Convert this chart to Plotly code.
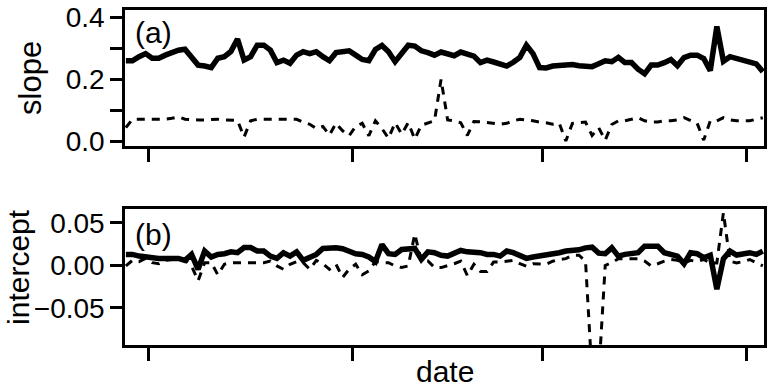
import pandas as pd
import plotly.graph_objects as go
from plotly.subplots import make_subplots

# ---- data (daily, starting 2007-12-28) ----
start_date = "2007-12-28 12:00"
n_days = 98
dates = pd.date_range(start_date, periods=n_days, freq="D")

slope_solid = [
    0.26, 0.26, 0.273, 0.283, 0.268, 0.268, 0.278, 0.286, 0.294, 0.297,
    0.273, 0.246, 0.243, 0.238, 0.268, 0.273, 0.29, 0.33, 0.262, 0.273,
    0.31, 0.31, 0.294, 0.254, 0.262, 0.252, 0.278, 0.289, 0.283, 0.289,
    0.273, 0.26, 0.286, 0.291, 0.292, 0.278, 0.264, 0.26, 0.296, 0.309,
    0.289, 0.257, 0.286, 0.31, 0.307, 0.292, 0.286, 0.278, 0.288, 0.281,
    0.276, 0.288, 0.283, 0.275, 0.254, 0.262, 0.256, 0.248, 0.243, 0.255,
    0.271, 0.31, 0.283, 0.238, 0.237, 0.243, 0.245, 0.25, 0.248, 0.244,
    0.241, 0.241, 0.25, 0.26, 0.257, 0.271, 0.254, 0.254, 0.233, 0.218,
    0.246, 0.246, 0.254, 0.264, 0.244, 0.27, 0.278, 0.278, 0.267, 0.228,
    0.37, 0.258, 0.273, 0.268, 0.259, 0.254, 0.25, 0.225,
]
slope_dashed = [
    0.045, 0.072, 0.072, 0.072, 0.072, 0.072, 0.072, 0.075, 0.08, 0.072,
    0.07, 0.07, 0.07, 0.072, 0.072, 0.07, 0.07, 0.068, 0.015, 0.067,
    0.072, 0.072, 0.07, 0.07, 0.072, 0.072, 0.072, 0.063, 0.056, 0.042,
    0.049, 0.021, 0.059, 0.035, 0.019, 0.049, 0.059, 0.019, 0.067, 0.042,
    0.011, 0.061, 0.024, 0.061, 0.008, 0.053, 0.059, 0.067, 0.2, 0.07,
    0.067, 0.061, 0.02, 0.065, 0.064, 0.061, 0.059, 0.056, 0.059, 0.067,
    0.072, 0.07, 0.067, 0.063, 0.061, 0.056, 0.059, 0.002, 0.059, 0.061,
    0.063, 0.02, 0.045, 0.005, 0.055, 0.067, 0.067, 0.072, 0.077, 0.067,
    0.063, 0.063, 0.067, 0.067, 0.07, 0.077, 0.067, 0.059, 0.005, 0.067,
    0.067, 0.077, 0.07, 0.067, 0.067, 0.067, 0.072, 0.077,
]
intercept_solid = [
    0.013, 0.013, 0.011, 0.0099, 0.0083, 0.0083, 0.0083, 0.0083, 0.0083, 0.006,
    0.013, -0.0045, 0.017, 0.0099, 0.013, 0.0138, 0.016, 0.015, 0.021, 0.021,
    0.017, 0.017, 0.011, 0.0083, 0.015, 0.011, 0.016, 0.006, 0.0099, 0.013,
    0.02, 0.0207, 0.0207, 0.0196, 0.016, 0.0138, 0.013, 0.0099, 0.0045, 0.0246,
    0.0138, 0.013, 0.0188, 0.0188, 0.02, 0.0072, 0.016, 0.015, 0.012, 0.011,
    0.0138, 0.0176, 0.016, 0.0157, 0.015, 0.013, 0.013, 0.011, 0.0169, 0.015,
    0.0118, 0.0083, 0.0099, 0.011, 0.0122, 0.013, 0.015, 0.0169, 0.0169, 0.0184,
    0.0207, 0.0215, 0.0145, 0.0138, 0.0207, 0.011, 0.013, 0.0138, 0.015, 0.0227,
    0.0227, 0.0227, 0.015, 0.013, 0.011, 0.002, 0.015, 0.0138, 0.0091, 0.012,
    -0.028, 0.008, 0.0169, 0.0122, 0.0138, 0.015, 0.013, 0.0169,
]
intercept_dashed = [
    -0.0006, 0.006, 0.0045, 0.0083, 0.0033, 0.002, 0.006, 0.007, 0.007, 0.006,
    -0.0006, -0.018, 0.0033, 0.0033, -0.011, 0.0014, 0.0033, 0.0033, 0.0033, 0.0033,
    0.0033, 0.0033, 0.0052, -0.0006, -0.0045, 0.0014, 0.0045, 0.0033, -0.0045, 0.006,
    0.002, -0.0045, 0.0014, -0.0141, -0.0045, 0.0014, -0.011, -0.0064, 0.0045, 0.0033,
    0.0033, -0.0006, -0.0025, -0.0006, 0.037, 0.0052, 0.0052, -0.0025, -0.0025, -0.0006,
    0.002, 0.005, -0.012, 0.0014, -0.007, -0.007, 0.004, 0.004, 0.005, 0.006,
    0.002, -0.001, 0.002, 0.002, 0.0014, 0.005, 0.007, 0.008, 0.012, 0.012,
    0.005, -0.13, -0.13, 0.0, 0.0033, 0.008, 0.008, 0.008, 0.008, 0.0052,
    -0.0006, 0.002, 0.005, 0.007, 0.006, 0.003, 0.006, 0.0045, 0.007, 0.003,
    0.003, 0.062, 0.005, 0.003, 0.0045, 0.007, 0.003, -0.0006,
]

date_ticks = ["2008-01-01", "2008-02-01", "2008-03-01", "2008-04-01"]
x_range = ["2007-12-28 08:47", "2008-04-03 16:20"]

slope_ticks = [0.0, 0.1, 0.2, 0.3, 0.4]
slope_ticktext = ["0.0", "", "0.2", "", "0.4"]
intercept_ticks = [-0.05, 0.0, 0.05]
intercept_ticktext = ["\u22120.05", "0.00", "0.05"]

FONT = "Liberation Sans, Arial, Helvetica, sans-serif"

fig = make_subplots(rows=2, cols=1, shared_xaxes=False, vertical_spacing=0.0)

fig.add_trace(go.Scatter(x=dates, y=slope_solid, mode="lines",
                         line=dict(color="black", width=5.5), showlegend=False), row=1, col=1)
fig.add_trace(go.Scatter(x=dates, y=slope_dashed, mode="lines",
                         line=dict(color="black", width=3, dash="8px,7px"), showlegend=False), row=1, col=1)
fig.add_trace(go.Scatter(x=dates, y=intercept_solid, mode="lines",
                         line=dict(color="black", width=5.5), showlegend=False), row=2, col=1)
fig.add_trace(go.Scatter(x=dates, y=intercept_dashed, mode="lines",
                         line=dict(color="black", width=3, dash="8px,7px"), showlegend=False), row=2, col=1)

axis_common = dict(showline=True, mirror=True, linecolor="black", linewidth=2.5,
                   ticks="outside", tickcolor="black", tickwidth=2.5,
                   showgrid=False, zeroline=False)

for r in (1, 2):
    fig.update_xaxes(range=x_range, tickvals=date_ticks, showticklabels=False,
                     ticklen=13, **axis_common, row=r, col=1)

fig.update_yaxes(range=[-0.0135, 0.423], tickvals=slope_ticks, ticktext=slope_ticktext,
                 ticklen=12, tickfont=dict(size=28, family=FONT, color="black"),
                 ticklabeloverflow="allow", **axis_common, row=1, col=1)
fig.update_yaxes(range=[-0.0936, 0.0665], tickvals=intercept_ticks, ticktext=intercept_ticktext,
                 ticklen=12, tickfont=dict(size=28, family=FONT, color="black"),
                 ticklabeloverflow="allow", **axis_common, row=2, col=1)

H = 387
t, b = 6, 42
ph = H - t - b
fig.update_layout(
    width=769, height=387,
    margin=dict(l=125, r=2, t=t, b=b),
    paper_bgcolor="white", plot_bgcolor="white",
    font=dict(family=FONT, color="black"),
    yaxis=dict(domain=[1 - (143.5 - 6) / ph, 1]),
    yaxis2=dict(domain=[0, (345 - 207.3) / ph]),
    xaxis=dict(domain=[0, 1]), xaxis2=dict(domain=[0, 1]),
)

ann_font = dict(size=30, family=FONT, color="black")
fig.add_annotation(text="(a)", xref="x domain", yref="y domain", x=0, y=1,
                   xanchor="left", yanchor="top", xshift=8, yshift=-4,
                   showarrow=False, font=ann_font)
fig.add_annotation(text="(b)", xref="x2 domain", yref="y2 domain", x=0, y=1,
                   xanchor="left", yanchor="top", xshift=8, yshift=-7,
                   showarrow=False, font=ann_font)
fig.add_annotation(text="slope", xref="paper", yref="y domain", x=0, y=0.5,
                   xanchor="center", yanchor="middle", xshift=-94, textangle=-90,
                   showarrow=False, font=dict(size=31, family=FONT, color="black"))
fig.add_annotation(text="intercept", xref="paper", yref="paper", x=0, y=(H - b - 266) / ph,
                   xanchor="center", yanchor="middle", xshift=-106, textangle=-90,
                   showarrow=False, font=dict(size=30, family=FONT, color="black"))
fig.add_annotation(text="date", xref="paper", yref="paper", x=0.5, y=0,
                   xanchor="center", yanchor="top", yshift=-8,
                   showarrow=False, font=dict(size=30, family=FONT, color="black"))

fig.write_html("out.html")
